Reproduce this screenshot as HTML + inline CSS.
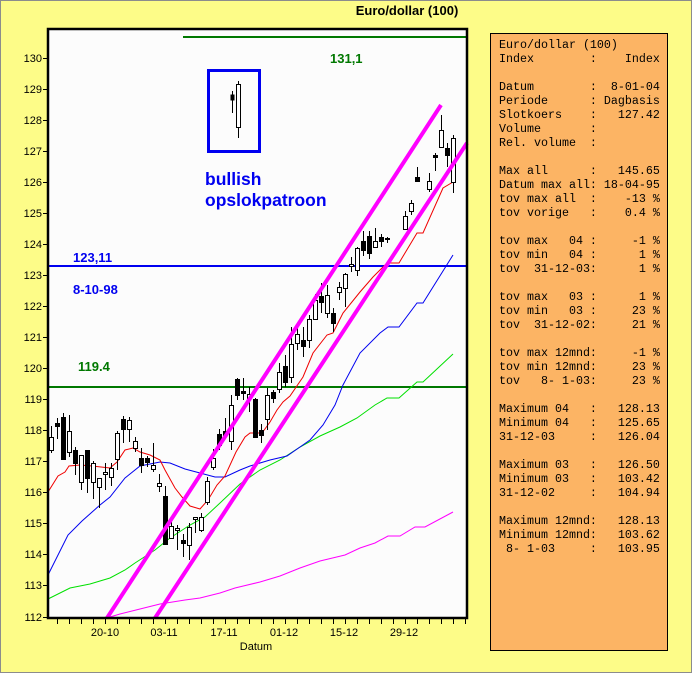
<!DOCTYPE html>
<html><head><meta charset="utf-8"><style>
html,body{margin:0;padding:0}
body{width:692px;height:673px;position:relative;background:#fdfc88;overflow:hidden;font-family:"Liberation Sans",sans-serif}
#frame{position:absolute;left:0;top:0;width:690px;height:671px;border:1px solid #8c8c8c}
pre{position:absolute;left:490px;top:33px;width:178px;height:618px;margin:0;background:#fcb464;border:1px solid #000;box-sizing:border-box;font-family:"Liberation Mono",monospace;font-size:11.67px;line-height:14px;padding:4px 0 0 8px;color:#000}
svg{position:absolute;left:0;top:0}
</style></head><body>
<div id="frame"></div>
<svg width="692" height="673" xmlns="http://www.w3.org/2000/svg">
<text x="407" y="15" font-size="13" font-weight="bold" text-anchor="middle" font-family="Liberation Sans, sans-serif">Euro/dollar (100)</text>
<rect x="48" y="29" width="419" height="589" fill="#fcfcfc"/>
<g font-size="11" font-family="Liberation Sans, sans-serif" text-anchor="end" fill="#000">
<text x="42" y="62">130</text><text x="42" y="93">129</text><text x="42" y="124">128</text><text x="42" y="155">127</text><text x="42" y="186">126</text><text x="42" y="217">125</text><text x="42" y="248">124</text><text x="42" y="279">123</text><text x="42" y="310">122</text><text x="42" y="341">121</text><text x="42" y="372">120</text><text x="42" y="403">119</text><text x="42" y="434">118</text><text x="42" y="465">117</text><text x="42" y="496">116</text><text x="42" y="527">115</text><text x="42" y="558">114</text><text x="42" y="589">113</text><text x="42" y="621">112</text>
</g>
<g stroke="#000" stroke-width="1">
<path d="M43 58.5h5M43 89.5h5M43 120.5h5M43 151.5h5M43 182.5h5M43 213.5h5M43 244.5h5M43 275.5h5M43 306.5h5M43 337.5h5M43 368.5h5M43 399.5h5M43 430.5h5M43 461.5h5M43 492.5h5M43 523.5h5M43 554.5h5M43 585.5h5M43 617.5h5"/>
</g>
<line x1="183" y1="37" x2="467" y2="37" stroke="#007800" stroke-width="2"/>
<line x1="48" y1="387" x2="467" y2="387" stroke="#007800" stroke-width="2"/>
<line x1="48" y1="266" x2="467" y2="266" stroke="#0000f0" stroke-width="2"/>
<g font-size="13" font-weight="bold" font-family="Liberation Sans, sans-serif">
<text x="330" y="63" fill="#007800">131,1</text>
<text x="78" y="371" fill="#007800">119.4</text>
<text x="73" y="262" fill="#0000f0">123,11</text>
<text x="73" y="294" fill="#0000f0">8-10-98</text>
</g>
<text x="205" y="185" font-size="17.5" font-weight="bold" fill="#0000f0" font-family="Liberation Sans, sans-serif">bullish</text>
<text x="205" y="206" font-size="17.5" font-weight="bold" fill="#0000f0" font-family="Liberation Sans, sans-serif">opslokpatroon</text>
<rect x="208.5" y="70.5" width="51" height="81" fill="none" stroke="#0000f0" stroke-width="3"/>
<line x1="232.5" y1="91" x2="232.5" y2="113" stroke="#000"/><rect x="230.5" y="94.5" width="4" height="6" fill="#000"/>
<line x1="238.5" y1="81" x2="238.5" y2="138" stroke="#000"/><rect x="236.5" y="84.5" width="4" height="43" fill="#fff" stroke="#000"/>
<g fill="none" stroke-width="1">
<polyline stroke="#ff00ff" points="110,617 120,614 140,609 160,604 185,600 200,598 220,593 235,588 260,582 280,576 300,568 320,561 345,555 360,548 375,543 388,536 400,536 415,527 425,527 453,512"/>
<polyline stroke="#00e000" points="48,599 70,588 90,584 110,578 125,570 135,563 155,550 170,538 190,525 205,517 220,503 240,484 260,470 280,460 300,447 320,436 340,427 357,418 375,405 387,398 399,398 417,382 423,382 453,354"/>
<polyline stroke="#0000f0" points="48,575 68,535 82,521 100,505 110,497 125,478 140,466 160,462 170,463 185,469 200,473 215,477 225,477 240,470 250,466 270,460 287,456 300,447 310,440 323,425 335,405 343,385 360,353 380,333 388,327 399,327 417,303 423,303 453,255"/>
<polyline stroke="#f00000" points="48,492 58,476 65,472 69,466 80,465 92,466 110,468 117,462 125,450 133,448 140,452 150,455 160,460 165,470 175,488 182,497 190,506 200,509 208,500 217,485 225,476 236,452 245,437 250,433 262,433 270,422 277,410 283,402 290,396 303,377 313,353 327,335 333,333 343,313 360,292 373,277 387,263 399,263 417,233 423,233 443,188 453,182"/>
</g>
<g stroke="#000" stroke-width="1" shape-rendering="crispEdges">
<path d="M51.5 426V453M57.5 418V439M63.5 413V460M69.5 415V457M75.5 447V475M81.5 455V490M87.5 450V493M93.5 461V499M99.5 478V508M105.5 463V490M111.5 463V486M117.5 431V470M123.5 416V443M129.5 417V442M135.5 437V452M141.5 448V473M147.5 456V467M153.5 443V472M159.5 474V492M165.5 486V545M171.5 522V539M177.5 525V550M183.5 534V557M189.5 523V560M195.5 517V533M201.5 513V532M207.5 477V505M213.5 449V470M219.5 429V450M225.5 418V437M231.5 395V450M237.5 378V400M243.5 378V400M249.5 387V412M255.5 398V438M261.5 424V443M267.5 388V430M273.5 390V403M279.5 363V393M285.5 355V387M291.5 327V383M297.5 327V350M303.5 327V357M309.5 315V348M315.5 294V320M321.5 283V313M327.5 285V318M333.5 308V332M339.5 282V300M345.5 273V307M351.5 257V272M357.5 247V276M363.5 231V256M369.5 231V259M375.5 228V248M381.5 234V247M387.5 237V243M405.5 211V230M411.5 200V215M417.5 167V181M429.5 173V192M435.5 153V171M441.5 115V147M447.5 143V167M453.5 135V193"/>
</g>
<g stroke="#000" stroke-width="1" fill="#fff">
<rect x="49.5" y="437.5" width="4" height="13"/>
<rect x="67.5" y="431.5" width="4" height="21"/>
<rect x="79.5" y="455.5" width="4" height="27"/>
<rect x="91.5" y="463.5" width="4" height="19"/>
<rect x="97.5" y="478.5" width="4" height="9"/>
<rect x="103.5" y="472.5" width="4" height="2"/>
<rect x="109.5" y="468.5" width="4" height="9"/>
<rect x="115.5" y="433.5" width="4" height="26"/>
<rect x="127.5" y="420.5" width="4" height="9"/>
<rect x="133.5" y="441.5" width="4" height="7"/>
<rect x="151.5" y="465.5" width="4" height="4"/>
<rect x="157.5" y="483.5" width="4" height="3"/>
<rect x="169.5" y="526.5" width="4" height="12"/>
<rect x="175.5" y="528.5" width="4" height="2"/>
<rect x="187.5" y="527.5" width="4" height="18"/>
<rect x="193.5" y="517.5" width="4" height="2"/>
<rect x="199.5" y="517.5" width="4" height="13"/>
<rect x="205.5" y="481.5" width="4" height="21"/>
<rect x="211.5" y="458.5" width="4" height="9"/>
<rect x="229.5" y="405.5" width="4" height="36"/>
<rect x="247.5" y="394.5" width="4" height="4"/>
<rect x="265.5" y="395.5" width="4" height="24"/>
<rect x="277.5" y="372.5" width="4" height="17"/>
<rect x="289.5" y="344.5" width="4" height="33"/>
<rect x="295.5" y="334.5" width="4" height="9"/>
<rect x="307.5" y="319.5" width="4" height="21"/>
<rect x="313.5" y="300.5" width="4" height="19"/>
<rect x="325.5" y="295.5" width="4" height="18"/>
<rect x="337.5" y="287.5" width="4" height="5"/>
<rect x="343.5" y="274.5" width="4" height="14"/>
<rect x="349.5" y="264.5" width="4" height="2"/>
<rect x="355.5" y="248.5" width="4" height="22"/>
<rect x="373.5" y="241.5" width="4" height="6"/>
<rect x="403.5" y="216.5" width="4" height="13"/>
<rect x="409.5" y="203.5" width="4" height="8"/>
<rect x="427.5" y="181.5" width="4" height="8"/>
<rect x="439.5" y="130.5" width="4" height="17"/>
<rect x="451.5" y="138.5" width="4" height="44"/>
</g>
<g fill="#000">
<rect x="55" y="423" width="5" height="4"/>
<rect x="61" y="417" width="5" height="43"/>
<rect x="73" y="450" width="5" height="14"/>
<rect x="85" y="450" width="5" height="29"/>
<rect x="121" y="419" width="5" height="11"/>
<rect x="139" y="458" width="5" height="8"/>
<rect x="145" y="458" width="5" height="5"/>
<rect x="163" y="496" width="5" height="49"/>
<rect x="181" y="540" width="5" height="4"/>
<rect x="217" y="434" width="5" height="12"/>
<rect x="223" y="431" width="5" height="5"/>
<rect x="235" y="379" width="5" height="17"/>
<rect x="241" y="391" width="5" height="3"/>
<rect x="253" y="399" width="5" height="39"/>
<rect x="259" y="430" width="5" height="6"/>
<rect x="271" y="392" width="5" height="7"/>
<rect x="283" y="366" width="5" height="17"/>
<rect x="301" y="340" width="5" height="7"/>
<rect x="319" y="296" width="5" height="7"/>
<rect x="331" y="313" width="5" height="11"/>
<rect x="361" y="241" width="5" height="10"/>
<rect x="367" y="236" width="5" height="18"/>
<rect x="379" y="237" width="5" height="5"/>
<rect x="385" y="238" width="5" height="2"/>
<rect x="415" y="177" width="5" height="5"/>
<rect x="433" y="155" width="5" height="3"/>
<rect x="445" y="148" width="5" height="8"/>
</g>
<g stroke="#ff00ff" stroke-width="4">
<line x1="107" y1="618" x2="441" y2="105"/>
<line x1="155" y1="618" x2="467" y2="143"/>
</g>
<rect x="47" y="618" width="420" height="54" fill="#fdfc88"/>
<g font-size="11" font-family="Liberation Sans, sans-serif" text-anchor="middle">
<text x="105" y="636">20-10</text><text x="164" y="636">03-11</text><text x="224" y="636">17-11</text><text x="284" y="636">01-12</text><text x="344" y="636">15-12</text><text x="404" y="636">29-12</text>
<text x="256" y="650">Datum</text>
</g>
<path d="M57.5 619v5M69.5 619v5M81.5 619v5M93.5 619v5M105.5 619v5M117.5 619v5M129.5 619v5M141.5 619v5M153.5 619v5M165.5 619v5M177.5 619v5M189.5 619v5M201.5 619v5M213.5 619v5M225.5 619v5M237.5 619v5M249.5 619v5M261.5 619v5M273.5 619v5M285.5 619v5M297.5 619v5M309.5 619v5M321.5 619v5M333.5 619v5M345.5 619v5M357.5 619v5M369.5 619v5M381.5 619v5M393.5 619v5M405.5 619v5M417.5 619v5M429.5 619v5M441.5 619v5M453.5 619v5M465.5 619v5" stroke="#000"/>
<rect x="48" y="29" width="419" height="589" fill="none" stroke="#000" stroke-width="2.5"/>
</svg>
<pre>Euro/dollar (100)
Index        :    Index

Datum        :  8-01-04
Periode      : Dagbasis
Slotkoers    :   127.42
Volume       :
Rel. volume  :

Max all      :   145.65
Datum max all: 18-04-95
tov max all  :    -13 %
tov vorige   :    0.4 %

tov max   04 :     -1 %
tov min   04 :      1 %
tov  31-12-03:      1 %

tov max   03 :      1 %
tov min   03 :     23 %
tov  31-12-02:     21 %

tov max 12mnd:     -1 %
tov min 12mnd:     23 %
tov   8- 1-03:     23 %

Maximum 04   :   128.13
Minimum 04   :   125.65
31-12-03     :   126.04

Maximum 03   :   126.50
Minimum 03   :   103.42
31-12-02     :   104.94

Maximum 12mnd:   128.13
Minimum 12mnd:   103.62
 8- 1-03     :   103.95</pre>
</body></html>
